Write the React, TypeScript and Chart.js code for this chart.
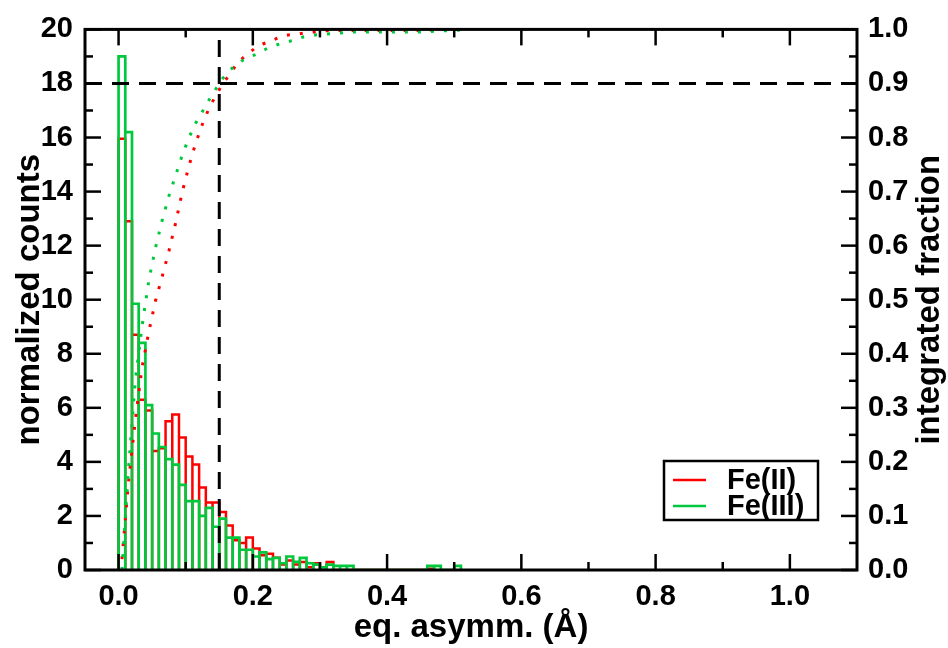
import React, { useEffect, useRef } from "react";
import { Chart, registerables } from "chart.js";

Chart.register(...registerables);

// ---- data ----
const binWidth = 0.01; // histogram bins start at 0.00 and are 0.01 wide
const feIIHist = [
  15.95, 12.9, 8.7, 6.3, 5.9, 4.4, 4.5, 5.5, 5.75, 4.9,
  4.2, 3.9, 3.05, 2.5, 2.5, 2.15, 1.65, 1.1, 1.0, 1.2,
  0.8, 0.55, 0.6, 0.45, 0.2, 0.35, 0.2, 0.3, 0.1, 0.25,
  0, 0.3, 0, 0, 0, 0, 0, 0, 0, 0,
  0, 0, 0, 0, 0, 0, 0.05,
];
const feIIIHist = [
  19.0, 16.2, 9.85, 8.4, 6.1, 5.05, 4.55, 4.1, 3.9, 3.15,
  2.55, 2.55, 2.0, 2.3, 1.6, 1.9, 1.2, 1.2, 0.75, 0.75,
  0.5, 0.65, 0.4, 0.45, 0.25, 0.5, 0.3, 0.45, 0.25, 0.2,
  0.1, 0.2, 0.15, 0.15, 0.15, 0, 0, 0, 0, 0,
  0, 0, 0, 0, 0, 0, 0.15, 0.15, 0, 0,
  0.15,
];
const cumX = [
  0.005, 0.015, 0.025, 0.035, 0.045, 0.055, 0.065, 0.075, 0.085, 0.095,
  0.105, 0.115, 0.125, 0.135, 0.145, 0.155, 0.165, 0.175, 0.185, 0.195,
  0.205, 0.215, 0.225, 0.235, 0.245, 0.255, 0.265, 0.275, 0.285, 0.295,
  0.305, 0.315, 0.325, 0.335, 0.345, 0.355, 0.405, 0.455, 0.475, 0.505,
  0.515,
];
const feIICum = [
  0.02, 0.165, 0.278, 0.375, 0.44, 0.498, 0.543, 0.59, 0.642, 0.7,
  0.748, 0.79, 0.825, 0.855, 0.878, 0.899, 0.916, 0.934, 0.947, 0.957,
  0.967, 0.973, 0.978, 0.983, 0.988, 0.99, 0.991, 0.993, 0.994, 0.996,
  0.997, 0.998, 0.998, 0.998, 0.998, 0.998, 0.998, 0.998, 1.0, 1.0,
  1.0,
];
const feIIICum = [
  0.0, 0.19, 0.352, 0.451, 0.535, 0.596, 0.647, 0.692, 0.73, 0.768,
  0.8, 0.827, 0.848, 0.87, 0.89, 0.909, 0.924, 0.934, 0.943, 0.949,
  0.954, 0.961, 0.967, 0.971, 0.975, 0.978, 0.982, 0.986, 0.988, 0.99,
  0.991, 0.992, 0.993, 0.994, 0.995, 0.995, 0.995, 0.995, 0.997, 0.9985,
  1.0,
];
const cutoffX = 0.15;
const cutoffFraction = 0.9;

const xTickValues = [0, 0.2, 0.4, 0.6, 0.8, 1.0];
const xMinorTickValues = [0.1, 0.3, 0.5, 0.7, 0.9];
const yTickValues = [0, 2, 4, 6, 8, 10, 12, 14, 16, 18, 20];
const yMinorTickValues = [1, 3, 5, 7, 9, 11, 13, 15, 17, 19];
const y2TickValues = [0, 0.1, 0.2, 0.3, 0.4, 0.5, 0.6, 0.7, 0.8, 0.9, 1.0];
const y2MinorTickValues = [0.05, 0.15, 0.25, 0.35, 0.45, 0.55, 0.65, 0.75, 0.85, 0.95];

const seriesNames = ["Fe(II)", "Fe(III)"];
const RED = "#ff0000";
const GREEN = "#00c83c";
const FONT = "'Liberation Sans', Arial, Helvetica, sans-serif";

function histOutline(values: number[]) {
  const pts: { x: number; y: number }[] = [];
  values.forEach((h, k) => {
    const x0 = k * binWidth;
    const x1 = (k + 1) * binWidth;
    pts.push({ x: x0, y: 0 }, { x: x0, y: h }, { x: x1, y: h }, { x: x1, y: 0 });
  });
  return pts;
}

const framePlugin = {
  id: "frameTicks",
  afterDatasetsDraw(chart: any) {
    const { ctx, chartArea: a, scales } = chart;
    const sx = scales.x, sy = scales.y, sy2 = scales.y2;
    const line = (x1: number, y1: number, x2: number, y2: number) => {
      ctx.beginPath();
      ctx.moveTo(x1, y1);
      ctx.lineTo(x2, y2);
      ctx.stroke();
    };
    ctx.save();
    ctx.strokeStyle = "#000";
    ctx.lineWidth = 2.5;
    const major = 16, minor = 8;
    xTickValues.forEach((v) => {
      const p = sx.getPixelForValue(v);
      line(p, a.bottom, p, a.bottom - major);
      line(p, a.top, p, a.top + major);
    });
    xMinorTickValues.forEach((v) => {
      const p = sx.getPixelForValue(v);
      line(p, a.bottom, p, a.bottom - minor);
      line(p, a.top, p, a.top + minor);
    });
    yTickValues.forEach((v) => {
      const p = sy.getPixelForValue(v);
      line(a.left, p, a.left + major, p);
    });
    yMinorTickValues.forEach((v) => {
      const p = sy.getPixelForValue(v);
      line(a.left, p, a.left + minor, p);
    });
    y2TickValues.forEach((v) => {
      const p = sy2.getPixelForValue(v);
      line(a.right, p, a.right - major, p);
    });
    y2MinorTickValues.forEach((v) => {
      const p = sy2.getPixelForValue(v);
      line(a.right, p, a.right - minor, p);
    });
    ctx.lineWidth = 3;
    ctx.strokeRect(a.left, a.top, a.right - a.left, a.bottom - a.top);
    ctx.restore();
  },
  afterDraw(chart: any) {
    const { ctx, chartArea: a } = chart;
    ctx.save();
    // right axis title, reading bottom-to-top
    ctx.fillStyle = "#000";
    ctx.font = `bold 33px ${FONT}`;
    ctx.textAlign = "center";
    ctx.textBaseline = "middle";
    ctx.translate(930, (a.top + a.bottom) / 2);
    ctx.rotate(-Math.PI / 2);
    ctx.fillText("integrated fraction", 0, 0);
    ctx.restore();

    // legend box
    ctx.save();
    const bx = a.right - 193, bw = 154;
    const by = a.bottom - 109, bh = 59;
    ctx.fillStyle = "#fff";
    ctx.fillRect(bx, by, bw, bh);
    ctx.strokeStyle = "#000";
    ctx.lineWidth = 2.5;
    ctx.strokeRect(bx, by, bw, bh);
    const colors = [RED, GREEN];
    ctx.font = `bold 29px ${FONT}`;
    ctx.textBaseline = "middle";
    ctx.textAlign = "left";
    seriesNames.forEach((name, i) => {
      const cy = by + 19 + i * 26;
      ctx.strokeStyle = colors[i];
      ctx.lineWidth = 2.5;
      ctx.beginPath();
      ctx.moveTo(bx + 9, cy);
      ctx.lineTo(bx + 42, cy);
      ctx.stroke();
      ctx.fillStyle = "#000";
      ctx.fillText(name, bx + 63, cy + 1);
    });
    ctx.restore();
  },
};

export default function App() {
  const ref = useRef<HTMLCanvasElement | null>(null);
  useEffect(() => {
    if (!ref.current) return;
    const tickFont = { family: FONT, size: 29, weight: "bold" as const };
    const titleFont = { family: FONT, size: 33, weight: "bold" as const };
    const chart = new Chart(ref.current, {
      type: "line",
      data: {
        datasets: [
          {
            label: "Fe(II) hist",
            data: histOutline(feIIHist),
            borderColor: RED,
            borderWidth: 2.5,
            pointRadius: 0,
            yAxisID: "y",
            order: 5,
          },
          {
            label: "Fe(III) hist",
            data: histOutline(feIIIHist),
            borderColor: GREEN,
            borderWidth: 2.7,
            pointRadius: 0,
            yAxisID: "y",
            order: 4,
          },
          {
            label: "Fe(II) integrated",
            data: cumX.map((x, i) => ({ x, y: feIICum[i] })),
            borderColor: RED,
            borderWidth: 3,
            borderDash: [3, 10],
            pointRadius: 0,
            yAxisID: "y2",
            order: 3,
          },
          {
            label: "Fe(III) integrated",
            data: cumX.map((x, i) => ({ x, y: feIIICum[i] })),
            borderColor: GREEN,
            borderWidth: 3,
            borderDash: [3, 10],
            pointRadius: 0,
            yAxisID: "y2",
            order: 2,
          },
          {
            label: "cutoff x",
            data: [
              { x: cutoffX, y: 0 },
              { x: cutoffX, y: 1 },
            ],
            borderColor: "#000",
            borderWidth: 3,
            borderDash: [17, 10],
            pointRadius: 0,
            yAxisID: "y2",
            order: 1,
          },
          {
            label: "cutoff fraction",
            data: [
              { x: -0.05, y: cutoffFraction },
              { x: 1.1, y: cutoffFraction },
            ],
            borderColor: "#000",
            borderWidth: 3,
            borderDash: [17, 10],
            pointRadius: 0,
            yAxisID: "y2",
            order: 0,
          },
        ],
      },
      options: {
        animation: false,
        responsive: false,
        devicePixelRatio: 1,
        layout: { padding: { top: 28, left: 0, right: 0, bottom: 0 } },
        plugins: { legend: { display: false }, tooltip: { enabled: false } },
        elements: { line: { tension: 0 } },
        scales: {
          x: {
            type: "linear",
            min: -0.05,
            max: 1.1,
            grid: { display: false, drawTicks: false },
            border: { display: false },
            afterBuildTicks: (s: any) => {
              s.ticks = xTickValues.map((v) => ({ value: v }));
            },
            afterFit: (s: any) => {
              s.height = 78;
            },
            ticks: {
              font: tickFont,
              color: "#000",
              padding: 10,
              maxRotation: 0,
              autoSkip: false,
              callback: (v: any) => Number(v).toFixed(1),
            },
            title: {
              display: true,
              text: "eq. asymm. (Å)",
              font: titleFont,
              color: "#000",
              padding: { top: 0, bottom: 0 },
            },
          },
          y: {
            type: "linear",
            position: "left",
            min: 0,
            max: 20,
            grid: { display: false, drawTicks: false },
            border: { display: false },
            afterBuildTicks: (s: any) => {
              s.ticks = yTickValues.map((v) => ({ value: v }));
            },
            afterFit: (s: any) => {
              s.width = 85;
            },
            ticks: {
              font: tickFont,
              color: "#000",
              padding: 12,
              autoSkip: false,
              callback: (v: any) => String(v),
            },
            title: {
              display: true,
              text: "normalized counts",
              font: titleFont,
              color: "#000",
              padding: { top: 10, bottom: 0 },
            },
          },
          y2: {
            type: "linear",
            position: "right",
            min: 0,
            max: 1,
            grid: { display: false, drawTicks: false },
            border: { display: false },
            afterBuildTicks: (s: any) => {
              s.ticks = y2TickValues.map((v) => ({ value: v }));
            },
            afterFit: (s: any) => {
              s.width = 91;
            },
            ticks: {
              font: tickFont,
              color: "#000",
              padding: 11,
              autoSkip: false,
              callback: (v: any) => Number(v).toFixed(1),
            },
          },
        },
      },
      plugins: [framePlugin],
    });
    return () => chart.destroy();
  }, []);

  return (
    <div style={{ position: "fixed", left: 0, top: 0, width: 948, height: 648, background: "#fff" }}>
      <canvas ref={ref} width={948} height={648} />
    </div>
  );
}
